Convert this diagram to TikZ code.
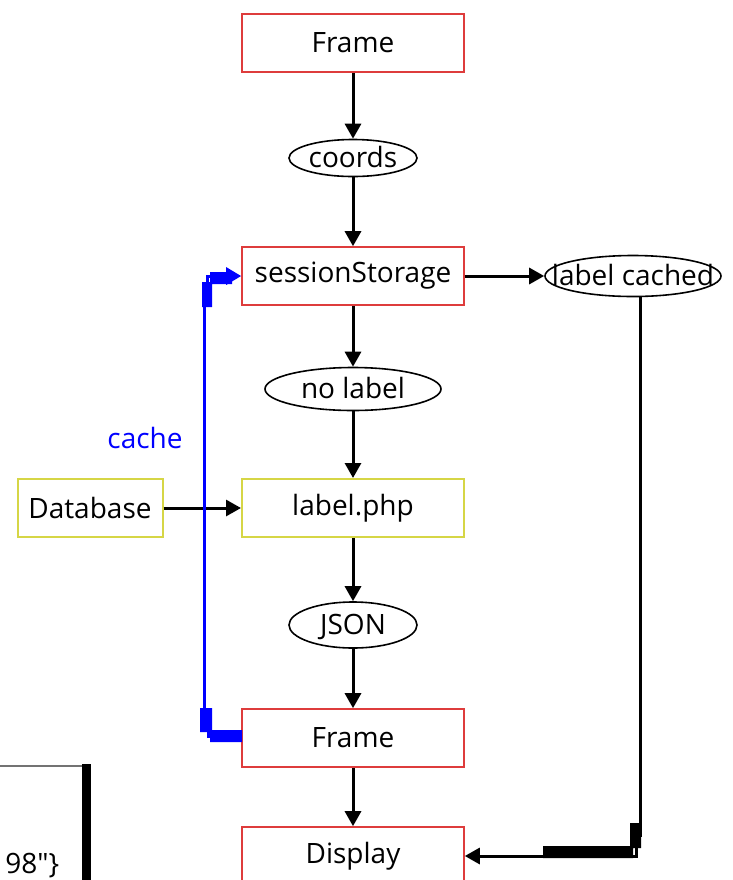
\documentclass[tikz,border=0pt]{standalone}
\usepackage{fontspec}
\setmainfont{Open Sans}
\usetikzlibrary{arrows.meta}
\usetikzlibrary{shapes.geometric}

\definecolor{boxred}{RGB}{222,60,60}
\definecolor{boxyellow}{RGB}{214,214,70}

\tikzset{
  redbox/.style={rectangle, draw=boxred, line width=0.8pt, minimum width=111pt, minimum height=29pt, inner sep=0pt},
  yellowbox/.style={rectangle, draw=boxyellow, line width=1pt, minimum height=29pt, inner sep=0pt},
  oval/.style={ellipse, draw, line width=0.8pt, inner sep=0pt, text height=9.5pt, text depth=0pt,
    execute at begin node={\hbox to 0pt\bgroup\hss}, execute at end node={\hss\egroup}},
  flow/.style={-{Triangle[length=7.5pt, width=8pt]}, line width=1.5pt},
}

\begin{document}
\begin{tikzpicture}[x=0.5pt, y=-0.5pt, font=\fontsize{14}{16}\selectfont]
  \useasboundingbox (0,0) rectangle (733,880);

  \node[redbox] (frame1) at (353,43) {Frame};
  \node[oval, minimum width=64pt, minimum height=18.5pt] (coords) at (353,158) {coords};
  \node[redbox] (session) at (353,276) {sessionStorage};
  \node[oval, minimum width=88pt, minimum height=20.5pt] (cached) at (633,276) {label cached};
  \node[oval, minimum width=88pt, minimum height=21.5pt] (nolabel) at (353,389) {no label};
  \node[yellowbox, minimum width=72.5pt] (database) at (90,508) {Database};
  \node[yellowbox, minimum width=111pt] (labelphp) at (353,508) {label.php};
  \node[oval, minimum width=64pt, minimum height=23pt] (json) at (353,625) {JSON};
  \node[redbox] (frame2) at (353,738) {Frame};
  \node[redbox] (display) at (353,856) {Display};
  \node[text=blue] (cache) at (145,438) {cache};

  % cut off node in the lower left corner
  \draw[black!55, line width=0.7pt] (-50,766) -- (84,766);
  \draw[line width=4.5pt] (86,764) -- (86,900);
  \node[anchor=north west, inner sep=0pt] (rest) at (5,853) {98\textquotedbl\}};

  \draw[flow] (frame1) -- (coords);
  \draw[flow] (coords) -- (session);
  \draw[flow] (session) -- (nolabel);
  \draw[flow] (nolabel) -- (labelphp);
  \draw[flow] (labelphp) -- (json);
  \draw[flow] (json) -- (frame2);
  \draw[flow] (frame2) -- (display);
  \draw[flow] (session) -- (cached);
  \draw[flow] (database) -- (labelphp);

  % cache connector
  \coordinate (cachelow) at (208,736);
  \coordinate (cachehigh) at (207,295);
  \draw[blue, line width=1.5pt, -{Triangle[length=7.5pt, width=8.5pt]}]
    (frame2.west |- cachelow) -- (cachelow) -- ++(0,-16) -| (204,400) |- (cachehigh) |- (session.west);
  \fill[blue] (200,708) rectangle (212,732) (210,730) rectangle (242,742);
  \fill[blue] (202,282) rectangle (212,307) (210,272) rectangle (232,284);

  % cached connector
  \coordinate (cacheddown) at (640,296);
  \coordinate (cachedright) at (636,856);
  \draw[flow] (cacheddown) -- (640,835) -| (cachedright) -- (display.east |- cachedright);
  \fill (630,823) rectangle (641,848) (543,846) rectangle (633,858);
\end{tikzpicture}
\end{document}
